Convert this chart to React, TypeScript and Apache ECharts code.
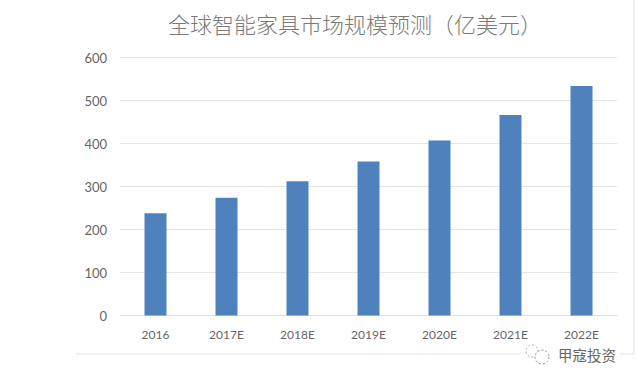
import React, { useEffect, useRef } from "react";
import * as echarts from "echarts";

const categories = ["2016", "2017E", "2018E", "2019E", "2020E", "2021E", "2022E"];
const marketSize = [238, 274, 312, 358, 407, 466, 534];
const titleText = "全球智能家具市场规模预测（亿美元）";
const watermarkText = "甲寇投资";
const FONT = '"Noto Sans CJK SC", sans-serif';
const LATIN = 'Lato, "Open Sans", sans-serif';

export default function App() {
  const ref = useRef<HTMLDivElement>(null);
  useEffect(() => {
    const chart = echarts.init(ref.current!, null, { renderer: "svg" });
    chart.setOption({
      animation: false,
      backgroundColor: "#ffffff",
      title: {
        text: titleText,
        left: 350,
        top: 7,
        textAlign: "center",
        textStyle: { color: "#7a7a7a", fontSize: 22, fontWeight: 300, fontFamily: FONT },
      },
      grid: { left: 120, right: 20, top: 57.5, bottom: 68.5, containLabel: false },
      xAxis: {
        type: "category",
        data: categories,
        axisLine: { lineStyle: { color: "#e0e0e0", width: 1 } },
        axisTick: { show: false },
        axisLabel: { color: "#666666", fontSize: 12, margin: 13, fontFamily: LATIN },
      },
      yAxis: {
        type: "value",
        min: 0,
        max: 600,
        interval: 100,
        axisLine: { show: false },
        axisTick: { show: false },
        axisLabel: { color: "#666666", fontSize: 13, margin: 13, fontFamily: LATIN },
        splitLine: { lineStyle: { color: "#e4e4e4", width: 1 } },
      },
      series: [
        {
          type: "bar",
          data: marketSize,
          barWidth: 22,
          itemStyle: { color: "#4f81bd" },
        },
      ],
      graphic: [
        { type: "line", shape: { x1: 76, y1: 354, x2: 634, y2: 354 }, style: { stroke: "#e2e2e2", lineWidth: 1 } },
        { type: "line", shape: { x1: 634, y1: 0, x2: 634, y2: 354 }, style: { stroke: "#e2e2e2", lineWidth: 1 } },
        { type: "rect", shape: { x: 520, y: 342, width: 100, height: 30 }, style: { fill: "#ffffff" } },
        { type: "circle", shape: { cx: 532, cy: 351, r: 6 }, style: { fill: "#ffffff", stroke: "#a8a8a8", lineWidth: 1, lineDash: [2, 2] } },
        { type: "circle", shape: { cx: 542, cy: 357, r: 7 }, style: { fill: "#ffffff", stroke: "#8c8c8c", lineWidth: 1, lineDash: [2, 2] } },
        {
          type: "text",
          x: 558,
          y: 347,
          style: { text: watermarkText, fill: "#666666", font: `14.5px ${FONT}` },
        },
      ],
    });
    return () => chart.dispose();
  }, []);
  return <div ref={ref} style={{ position: "fixed", left: 0, top: 0, width: 637, height: 384 }} />;
}
